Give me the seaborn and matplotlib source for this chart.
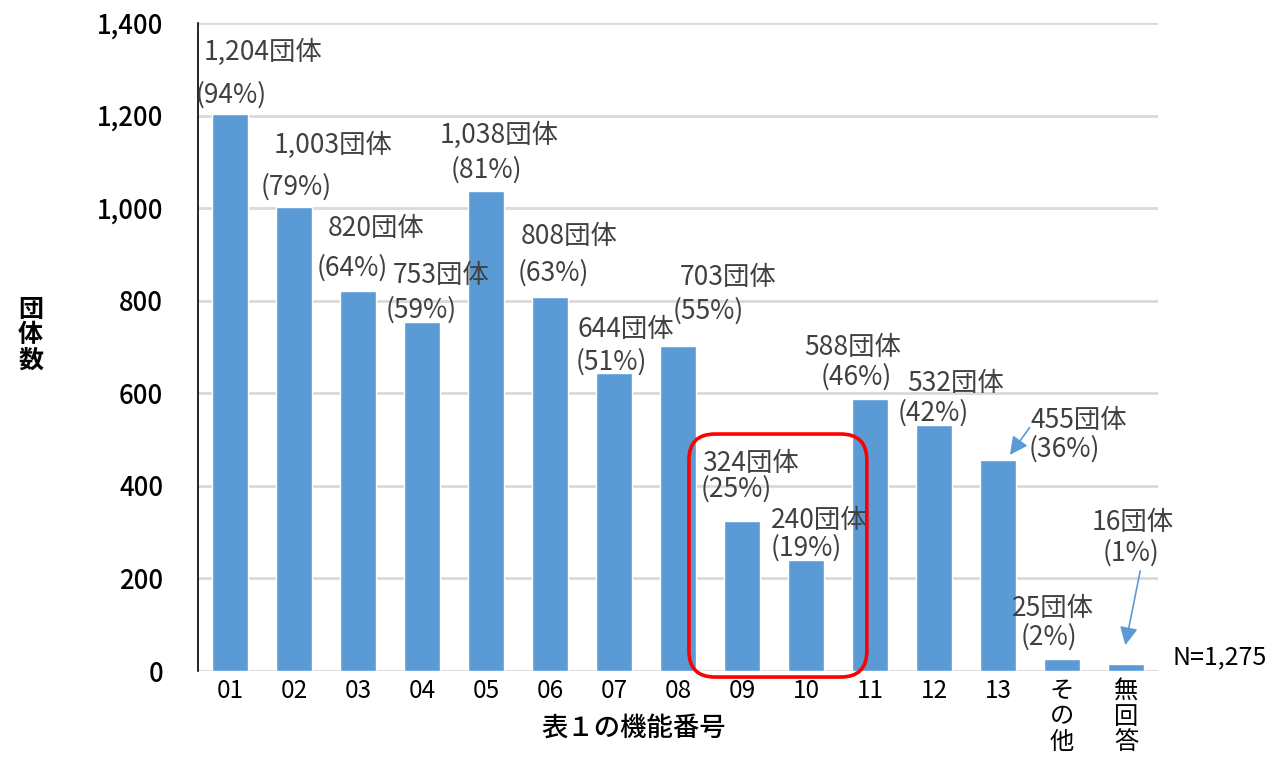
import numpy as np
import pandas as pd
import seaborn as sns
import matplotlib.pyplot as plt
import matplotlib.transforms as mtransforms
from matplotlib.patches import FancyBboxPatch

# data
categories = ['01', '02', '03', '04', '05', '06', '07', '08', '09', '10',
              '11', '12', '13', 'その他', '無回答']
counts = [1204, 1003, 820, 753, 1038, 808, 644, 703, 324, 240, 588, 532, 455, 25, 16]
percents = [94, 79, 64, 59, 81, 63, 51, 55, 25, 19, 46, 42, 36, 2, 1]
n_total = '1,275'

# label layout (offset from bar in category units, height in data units)
lab_dx1 = [0.52, 0.61, 0.28, 0.30, 0.20, 0.30, 0.19, 0.78, 0.14, 0.20, -0.27, 0.34, 1.27, -0.14, 0.11]
lab_y1 = [1337, 1136, 957, 855, 1158, 938, 737, 851, 449, 326, 700, 622, 542, 136, 320]
lab_dx2 = [0.02, 0.03, -0.09, -0.02, 0.0, 0.05, -0.05, 0.47, -0.09, 0.0, -0.22, -0.02, 1.03, -0.20, 0.08]
lab_y2 = [1244, 1046, 871, 780, 1082, 860, 668, 778, 393, 266, 635, 557, 480, 73, 255]

bar_color = '#5B9BD5'
text_color = '#404040'

sns.set_theme(style='white')
plt.rcParams['font.family'] = ['Noto Sans CJK JP', 'DejaVu Sans']

df = pd.DataFrame({'cat': categories, 'count': counts})

fig = plt.figure(figsize=(12.72, 7.62), dpi=100)
ax = fig.add_axes([0.1557, 0.1194, 0.7547, 0.8504])

sns.barplot(data=df, x='cat', y='count', order=categories, color=bar_color,
            saturation=1, width=0.55, ax=ax, zorder=3)

ax.set_xlim(-0.5, len(categories) - 0.5)
ax.set_ylim(0, 1400)
ax.set_yticks(range(0, 1401, 200))
ax.set_yticklabels([f'{v:,}' for v in range(0, 1401, 200)], fontsize=18.5,
                   color='black', fontweight='medium')
ax.yaxis.grid(True, color='#D9D9D9', linewidth=2, zorder=0)
ax.set_axisbelow(True)
for s in ['top', 'right', 'bottom']:
    ax.spines[s].set_visible(False)
ax.spines['left'].set_color('black')
ax.spines['left'].set_linewidth(1.2)
ax.tick_params(axis='y', length=0, pad=25)
ax.tick_params(axis='x', length=0, pad=5)

xt = [c if len(c) == 2 else '\n'.join(c) for c in categories]
ax.set_xticks(range(len(categories)))
ax.set_xticklabels(xt, fontsize=17.5, color='black', linespacing=0.98)
ax.set_xlabel('')
ax.set_ylabel('')

# value labels
for i, (c, p) in enumerate(zip(counts, percents)):
    ax.text(i + lab_dx1[i], lab_y1[i], f'{c:,}団体', ha='center', va='center',
            fontsize=19, color=text_color, zorder=5)
    ax.text(i + lab_dx2[i], lab_y2[i], f'({p}%)', ha='center', va='center',
            fontsize=19, color=text_color, zorder=5)

# arrows for 13 and 無回答
arrow_kw = dict(arrowstyle='-|>,head_length=0.9,head_width=0.45', color=bar_color, lw=1.2)
ax.annotate('', xy=(12.16, 462), xytext=(12.52, 531), arrowprops=arrow_kw,
            annotation_clip=False, zorder=6)
ax.annotate('', xy=(13.98, 50), xytext=(14.23, 222), arrowprops=arrow_kw,
            annotation_clip=False, zorder=6)

ax.text(14.73, 30, f'N={n_total}', ha='left', va='center', fontsize=18,
        color='black', clip_on=False)

# red rounded box around 09 and 10
fig.canvas.draw()
(x0, y0) = ax.transData.transform((7.17, -13))
(x1, y1) = ax.transData.transform((9.95, 512))
box = FancyBboxPatch((x0, y0), x1 - x0, y1 - y0,
                     boxstyle='round,pad=0,rounding_size=26',
                     transform=mtransforms.IdentityTransform(),
                     fill=False, edgecolor='#FF0000', linewidth=2.6, zorder=10)
fig.add_artist(box)

fig.text(0.498, 0.044, '表１の機能番号', ha='center', va='center', fontsize=19,
         color='black', fontweight='medium')
fig.text(0.024, 0.56, '団\n体\n数', ha='center', va='center', fontsize=18,
         color='black', fontweight='bold', linespacing=1.05)

fig.savefig('out.png', dpi=100)
